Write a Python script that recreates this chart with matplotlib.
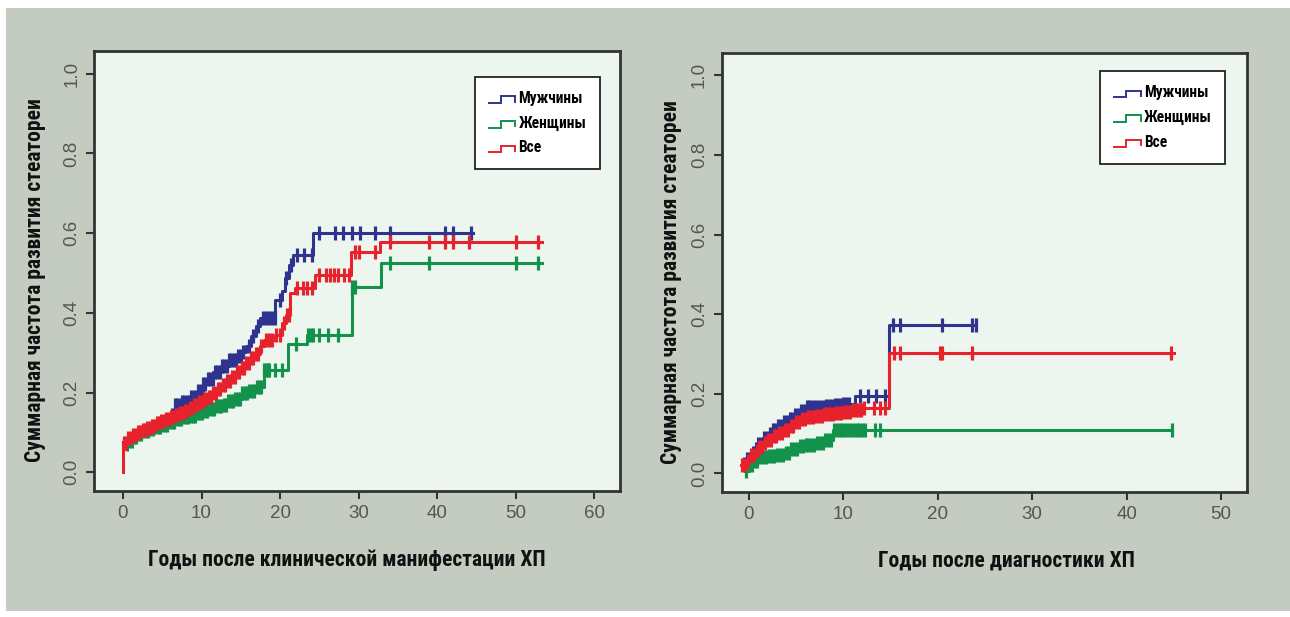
import numpy as np
import matplotlib
matplotlib.use("Agg")
import matplotlib.pyplot as plt
from matplotlib.patches import Rectangle
from matplotlib.legend_handler import HandlerBase
from matplotlib.lines import Line2D
from matplotlib import font_manager as fm

# ---------------- data: left panel (years after clinical manifestation) ----------------
series_names = ["Мужчины", "Женщины", "Все"]

L_men_t = [0.0, 0.6, 1.2, 1.8, 2.4, 3.0, 3.6, 4.2, 4.8, 5.4, 6.0, 6.6, 7.5, 8.5, 9.5,
           10.2, 10.8, 11.5, 12.5, 13.5, 14.5, 15.3, 15.7, 16.3, 16.9, 17.5, 19.4,
           20.3, 20.6, 21.1, 21.6, 24.2]
L_men_v = [0.075, 0.084, 0.093, 0.100, 0.106, 0.111, 0.117, 0.123, 0.129, 0.135, 0.145,
           0.168, 0.177, 0.188, 0.205, 0.222, 0.235, 0.252, 0.268, 0.281, 0.293, 0.302,
           0.316, 0.341, 0.366, 0.387, 0.433, 0.454, 0.487, 0.521, 0.546, 0.600]
L_men_end = 44.5
L_men_cens = [6.3, 6.6, 6.9, 7.2, 7.5, 7.8, 8.1, 8.4, 8.7, 9.0, 9.3, 9.6, 9.9, 10.2,
              10.5, 10.8, 11.1, 11.4, 11.7, 12.0, 12.3, 12.6, 12.9, 13.2, 13.5, 13.8,
              14.1, 14.4, 14.7, 15.0, 15.3, 16.0, 16.6, 17.2, 17.8, 18.2, 18.6, 19.0,
              19.3, 20.0, 20.8, 21.4, 22.1, 23.0, 24.0, 25.0, 27.0, 28.0, 29.1, 30.2,
              32.1, 34.0, 41.0, 42.0, 44.3]

L_wom_t = [0.0, 0.6, 1.2, 1.9, 2.6, 3.3, 4.0, 4.8, 5.7, 6.6, 7.5, 8.4, 9.3, 10.2, 11.0,
           11.8, 12.6, 13.4, 14.3, 15.1, 16.0, 17.0, 17.9, 21.0, 23.4, 29.1, 32.8]
L_wom_v = [0.070, 0.078, 0.088, 0.097, 0.105, 0.110, 0.115, 0.120, 0.127, 0.133, 0.138,
           0.142, 0.150, 0.154, 0.158, 0.166, 0.170, 0.180, 0.185, 0.200, 0.205, 0.215,
           0.257, 0.323, 0.345, 0.465, 0.525]
L_wom_end = 53.3
L_wom_cens = [0.5, 0.8, 1.1, 1.4, 1.7, 2.0, 2.3, 2.6, 2.9, 3.2, 3.5, 3.8, 4.1, 4.4, 4.7,
              5.0, 5.3, 5.6, 5.9, 6.2, 6.5, 6.8, 7.1, 7.4, 7.7, 8.0, 8.3, 8.6, 8.9, 9.2,
              9.5, 9.8, 10.1, 10.4, 10.7, 11.0, 11.3, 11.6, 11.9, 12.2, 12.5, 12.8, 13.1,
              13.4, 13.7, 14.0, 14.3, 14.6, 14.9, 15.2, 15.5, 15.8, 16.1, 16.4, 16.7,
              17.0, 17.3, 17.6, 18.0, 18.2, 18.4, 18.6, 19.3, 20.3, 22.0, 23.6, 23.9,
              24.2, 24.9, 26.1, 27.4, 29.1, 29.5, 34.0, 39.0, 50.0, 52.8]

L_all_t = [0.0, 0.0, 0.6, 1.2, 1.8, 2.4, 3.0, 3.6, 4.2, 4.8, 5.4, 6.0, 6.6, 7.2, 7.8, 8.4,
           9.0, 9.6, 10.2, 10.8, 11.4, 12.0, 12.6, 13.2, 13.8, 14.4, 15.0, 15.6, 16.2,
           16.8, 17.4, 18.0, 19.3, 20.2, 20.8, 21.3, 21.9, 24.4, 29.0, 32.7]
L_all_v = [0.0, 0.073, 0.085, 0.094, 0.101, 0.107, 0.112, 0.117, 0.124, 0.129, 0.133,
           0.139, 0.144, 0.150, 0.155, 0.161, 0.168, 0.176, 0.183, 0.190, 0.200, 0.210,
           0.220, 0.229, 0.240, 0.252, 0.262, 0.274, 0.286, 0.298, 0.316, 0.332, 0.345,
           0.375, 0.395, 0.450, 0.462, 0.496, 0.554, 0.579]
L_all_end = 53.3
L_all_cens = [0.1, 0.4, 0.7, 1.0, 1.3, 1.6, 1.9, 2.2, 2.5, 2.8, 3.1, 3.4, 3.7, 4.0, 4.3,
              4.6, 4.9, 5.2, 5.5, 5.8, 6.1, 6.4, 6.7, 7.0, 7.3, 7.6, 7.9, 8.2, 8.5, 8.8,
              9.1, 9.4, 9.7, 10.0, 10.3, 10.6, 10.9, 11.2, 11.5, 11.8, 12.1, 12.4, 12.7,
              13.0, 13.3, 13.6, 13.9, 14.2, 14.5, 14.8, 15.1, 15.4, 15.7, 16.0, 16.3,
              16.6, 16.9, 17.2, 17.6, 18.2, 18.6, 19.0, 19.5, 20.0, 20.5, 20.9, 21.1,
              22.1, 22.9, 23.4, 24.0, 25.0, 25.8, 26.4, 26.9, 27.4, 28.1, 28.8, 29.5,
              30.0, 32.1, 34.0, 39.0, 41.0, 42.0, 44.0, 50.0, 52.8]

# ---------------- data: right panel (years after diagnosis) ----------------
R_men_t = [-0.6, -0.2, 0.2, 0.6, 1.0, 1.5, 2.0, 2.5, 3.0, 3.6, 4.2, 4.8, 5.4, 6.0, 7.0,
           8.0, 9.0, 10.0, 11.2, 14.8]
R_men_v = [0.024, 0.035, 0.050, 0.062, 0.074, 0.088, 0.099, 0.108, 0.118, 0.128, 0.137,
           0.147, 0.158, 0.166, 0.168, 0.170, 0.172, 0.174, 0.194, 0.374]
R_men_end = 24.0
R_men_cens = [-0.5, -0.2, 0.1, 0.4, 0.7, 1.0, 1.3, 1.6, 1.9, 2.2, 2.5, 2.8, 3.1, 3.4,
              3.7, 4.0, 4.3, 4.6, 4.9, 5.2, 5.5, 5.8, 6.1, 6.4, 6.7, 7.0, 7.3, 7.6, 7.9,
              8.2, 8.5, 8.8, 9.1, 9.4, 9.7, 10.0, 10.3, 10.6, 11.8, 12.6, 13.5, 14.4,
              15.3, 16.0, 20.4, 23.6, 24.0]

R_wom_t = [-0.4, 0.0, 0.5, 1.0, 2.0, 3.0, 3.8, 4.5, 5.2, 6.0, 7.0, 8.0, 8.9]
R_wom_v = [0.007, 0.020, 0.032, 0.040, 0.043, 0.045, 0.050, 0.062, 0.068, 0.072, 0.077,
           0.083, 0.110]
R_wom_end = 44.8
R_wom_cens = [-0.3, 0.0, 0.3, 0.6, 0.9, 1.2, 1.5, 1.8, 2.1, 2.4, 2.7, 3.0, 3.3, 3.6, 3.9,
              4.2, 4.5, 4.8, 5.1, 5.4, 5.7, 6.0, 6.3, 6.6, 6.9, 7.2, 7.5, 7.8, 8.1, 8.4,
              8.7, 9.0, 9.3, 9.6, 9.9, 10.2, 10.5, 10.8, 11.1, 11.4, 11.7, 12.0, 12.3,
              13.4, 13.9, 44.8]

R_all_t = [-0.8, -0.3, 0.2, 0.6, 1.0, 1.5, 2.0, 2.5, 3.0, 3.6, 4.2, 4.8, 5.4, 6.0, 7.0,
           8.0, 9.0, 10.0, 11.0, 12.0, 14.8]
R_all_v = [0.020, 0.030, 0.045, 0.056, 0.066, 0.076, 0.085, 0.094, 0.101, 0.108, 0.118,
           0.128, 0.137, 0.141, 0.145, 0.148, 0.151, 0.155, 0.160, 0.165, 0.302]
R_all_end = 45.0
R_all_cens = [-0.7, -0.4, -0.1, 0.2, 0.5, 0.8, 1.1, 1.4, 1.7, 2.0, 2.3, 2.6, 2.9, 3.2,
              3.5, 3.8, 4.1, 4.4, 4.7, 5.0, 5.3, 5.6, 5.9, 6.2, 6.5, 6.8, 7.1, 7.4, 7.7,
              8.0, 8.3, 8.6, 8.9, 9.2, 9.5, 9.8, 10.1, 10.4, 10.7, 11.0, 11.3, 11.6,
              11.9, 12.2, 13.2, 13.9, 14.4, 15.4, 16.0, 20.2, 20.4, 23.6, 44.7]

x_ticks_left = [0, 10, 20, 30, 40, 50, 60]
x_ticks_right = [0, 10, 20, 30, 40, 50]
y_ticks = [0.0, 0.2, 0.4, 0.6, 0.8, 1.0]
y_label = "Суммарная частота развития стеатореи"
x_label_left = "Годы после клинической манифестации ХП"
x_label_right = "Годы после диагностики ХП"

# ---------------- style ----------------
C_MEN = "#2f3390"
C_WOM = "#12924a"
C_ALL = "#e8222c"
AX_BG = "#ecf6ee"
FIG_BG = "#c4cbc0"
SPINE = "#333333"
TICKFONT = ["Liberation Sans", "DejaVu Sans"]

# condensed bold face for labels
avail = {f.name for f in fm.fontManager.ttflist}
NARROW = None
for cand in ["Liberation Sans Narrow", "Roboto Condensed", "Open Sans Condensed",
             "DejaVu Sans Condensed"]:
    if cand in avail:
        NARROW = [cand, "DejaVu Sans"]
        NARROW_STRETCH = "normal"
        break
if NARROW is None:
    NARROW = ["DejaVu Sans"]
    NARROW_STRETCH = "condensed"


def lab_font(size):
    return fm.FontProperties(family=NARROW, weight="bold", size=size, stretch=NARROW_STRETCH)


fig = plt.figure(figsize=(12.9, 6.17), dpi=100, facecolor="white")
fig.patches.append(Rectangle((6 / 1290, 1 - 611 / 617), 1 - 6 / 1290, (611 - 8) / 617,
                             transform=fig.transFigure, facecolor=FIG_BG,
                             edgecolor="none", zorder=-5))

ax1 = fig.add_axes([94.3 / 1290, 1 - 490.7 / 617, (620 - 94.3) / 1290, (490.7 - 51) / 617])
ax2 = fig.add_axes([721.7 / 1290, 1 - 491.7 / 617, (1247.3 - 721.7) / 1290, (491.7 - 52.7) / 617])


def km(ax, t, v, end, cens, color, z):
    x = list(t) + [end]
    y = list(v) + [v[-1]]
    ax.step(x, y, where="post", color=color, lw=2.2, zorder=z)
    ta = np.asarray(t)
    idx = np.searchsorted(ta, np.asarray(cens), side="right") - 1
    cy = np.asarray(v)[idx]
    ax.plot(cens, cy, ls="none", marker="|", ms=10, mew=2.3, color=color, zorder=z)


class StepHandler(HandlerBase):
    def create_artists(self, legend, orig_handle, xdescent, ydescent, width, height,
                       fontsize, trans):
        x0 = -xdescent
        y0 = -ydescent
        xs = [x0, x0 + 0.45 * width, x0 + 0.45 * width, x0 + width, x0 + width]
        ys = [y0 + 0.0 * height, y0 + 0.0 * height, y0 + 0.6 * height,
              y0 + 0.6 * height, y0 + 0.1 * height]
        ln = Line2D(xs, ys, color=orig_handle.get_color(), lw=1.4, transform=trans,
                    solid_joinstyle="miter")
        return [ln]


def style(ax, xlim, xticks, xlabel, xlab_pos, ylab_pos, leg_anchor):
    ax.set_facecolor(AX_BG)
    ax.set_xlim(*xlim)
    ax.set_ylim(-0.046, 1.057)
    ax.set_xticks(xticks)
    ax.set_yticks(y_ticks)
    ax.set_xticklabels([str(v) for v in xticks])
    ax.set_yticklabels([f"{v:.1f}" for v in y_ticks])
    for s in ax.spines.values():
        s.set_color(SPINE)
        s.set_linewidth(2.0)
    ax.tick_params(axis="both", direction="out", length=6, width=1.5, color=SPINE,
                   labelcolor="#555555", labelsize=13.5)
    ax.tick_params(axis="x", pad=4)
    ax.tick_params(axis="y", pad=4)
    for lab in ax.get_xticklabels() + ax.get_yticklabels():
        lab.set_family(TICKFONT)
    for lab in ax.get_yticklabels():
        lab.set_rotation(90)
        lab.set_va("center")
    ax.set_xlabel(xlabel, fontproperties=lab_font(15.5), color="#111111")
    ax.set_ylabel(y_label, fontproperties=lab_font(15.5), color="#111111")
    ax.xaxis.set_label_coords(*xlab_pos)
    ax.yaxis.set_label_coords(*ylab_pos)
    handles = [Line2D([], [], color=c) for c in (C_MEN, C_WOM, C_ALL)]
    leg = ax.legend(handles, series_names, loc="upper left", bbox_to_anchor=leg_anchor,
                    borderaxespad=0, frameon=True, fancybox=False, shadow=False,
                    handler_map={Line2D: StepHandler()},
                    prop=lab_font(11.2),
                    handlelength=1.7, handletextpad=0.2, labelspacing=0.62,
                    borderpad=0.9)
    fr = leg.get_frame()
    fr.set_edgecolor("#222222")
    fr.set_linewidth(1.3)
    fr.set_facecolor("white")
    fr.set_alpha(1)


km(ax1, L_men_t, L_men_v, L_men_end, L_men_cens, C_MEN, 3)
km(ax1, L_wom_t, L_wom_v, L_wom_end, L_wom_cens, C_WOM, 4)
km(ax1, L_all_t, L_all_v, L_all_end, L_all_cens, C_ALL, 5)
style(ax1, (-3.65, 63.27), x_ticks_left, x_label_left, (0.48, -0.133), (-0.092, 0.478),
      (0.724, 0.941))

km(ax2, R_men_t, R_men_v, R_men_end, R_men_cens, C_MEN, 3)
km(ax2, R_wom_t, R_wom_v, R_wom_end, R_wom_cens, C_WOM, 4)
km(ax2, R_all_t, R_all_v, R_all_end, R_all_cens, C_ALL, 5)
style(ax2, (-2.89, 52.79), x_ticks_right, x_label_right, (0.541, -0.131), (-0.0755, 0.478),
      (0.72, 0.958))

fig.savefig("out.png", dpi=100, facecolor=fig.get_facecolor())
